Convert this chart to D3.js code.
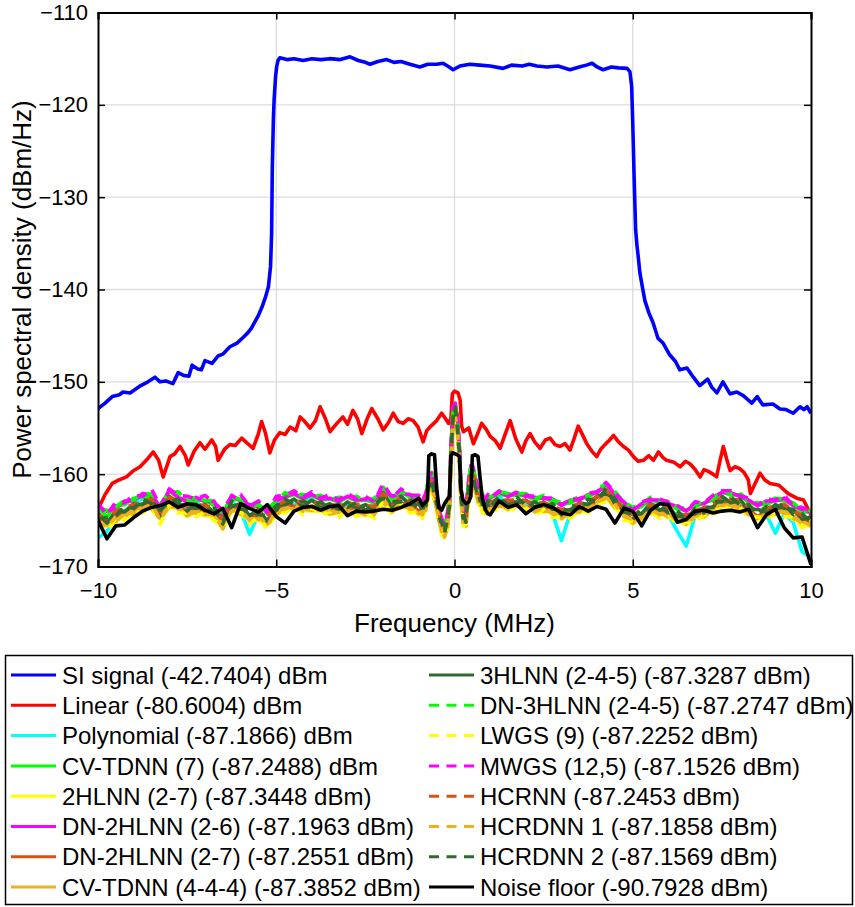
<!DOCTYPE html>
<html>
<head>
<meta charset="utf-8">
<script src="https://cdn.jsdelivr.net/npm/d3@7"></script>
<style>
body { margin: 0; background: #fff; }
svg { font-family: "Liberation Sans", Arial, sans-serif; }
</style>
</head>
<body>
<div id="chart"></div>
<script>

// x ticks / y ticks
var xTicks = [-10, -5, 0, 5, 10];
var yTicks = [-170, -160, -150, -140, -130, -120, -110];

// SI signal
var siFreq = [-10,-9.8,-9.6,-9.4,-9.3,-9.1,-8.95,-8.8,-8.6,-8.4,-8.26,-8.1,-7.9,-7.75,-7.6,-7.45,-7.36,-7.2,-7.1,-7,
  -6.8,-6.63,-6.5,-6.3,-6.1,-5.93,-5.8,-5.7,-5.6,-5.5,-5.4,-5.3,-5.22,-5.16,-5.13,-5.11,-5.08,-5.06,-5.02,-4.99,
  -4.95,-4.9,-4.7,-4.5,-4.25,-4,-3.75,-3.5,-3.2,-2.93,-2.7,-2.5,-2.37,-2.15,-1.9,-1.7,-1.5,-1.25,-0.97,-0.75,
  -0.5,-0.32,-0.15,-0.04,0.15,0.43,0.7,1,1.36,1.6,1.9,2.1,2.31,2.6,2.9,3.24,3.5,3.7,3.86,4,
  4.17,4.4,4.6,4.84,4.92,4.97,5,5.04,5.08,5.12,5.15,5.2,5.25,5.34,5.45,5.57,5.71,5.85,6.04,6.2,
  6.32,6.52,6.7,6.88,7.1,7.22,7.36,7.53,7.73,7.92,8.1,8.34,8.49,8.65,8.93,9.13,9.3,9.5,9.69,9.8,9.89,10];
var siPsd = [-152.9,-152.3,-151.6,-151.4,-151.1,-151.2,-150.8,-150.4,-150.0,-149.5,-150.0,-149.9,-150.2,-149.0,-149.3,-149.4,-148.2,-148.6,-148.7,-147.7,
  -148.0,-147.2,-147.0,-146.2,-145.8,-145.2,-144.7,-144.2,-143.5,-142.8,-141.9,-140.8,-139.7,-137.5,-133.9,-126.7,-121.5,-119.5,-117.0,-115.9,
  -115.2,-114.9,-115.1,-115.0,-115.2,-115.0,-115.1,-115.0,-115.1,-114.8,-115.2,-115.4,-115.6,-115.3,-115.1,-115.4,-115.3,-115.6,-115.9,-115.6,
  -115.6,-115.5,-115.9,-116.2,-115.8,-115.6,-115.7,-115.8,-116.05,-115.7,-115.8,-115.6,-115.8,-115.9,-115.8,-116.2,-115.9,-115.7,-115.5,-115.9,
  -116.2,-115.9,-116.0,-116.05,-116.4,-118.0,-122.0,-128.0,-133.5,-135.3,-136.3,-138.2,-139.3,-141.2,-142.5,-143.6,-145.3,-145.8,-147.1,-147.8,
  -148.7,-148.5,-149.5,-150.4,-149.7,-150.6,-151.2,-150.0,-151.3,-151.1,-151.5,-152.3,-151.6,-152.5,-152.4,-152.95,-153.0,-153.4,-152.7,-153.0,-152.7,-153.4];

// Linear canceller (red curve)
var linFreq = [-10,-9.8,-9.6,-9.4,-9.2,-9,-8.82,-8.6,-8.45,-8.3,-8.17,-7.98,-7.85,-7.7,-7.55,-7.47,-7.3,-7.14,-7,-6.81,
  -6.7,-6.63,-6.45,-6.3,-6.15,-5.97,-5.8,-5.65,-5.5,-5.41,-5.3,-5.18,-5.05,-4.9,-4.75,-4.61,-4.45,-4.33,-4.2,-4.05,
  -3.9,-3.77,-3.62,-3.49,-3.3,-3.13,-3,-2.85,-2.72,-2.6,-2.45,-2.32,-2.15,-2,-1.85,-1.72,-1.58,-1.44,-1.3,-1.16,
  -1.02,-0.88,-0.78,-0.69,-0.5,-0.36,-0.25,-0.17,-0.1,-0.06,0,0.1,0.16,0.2,0.25,0.4,0.53,0.65,0.76,0.9,
  1,1.15,1.28,1.42,1.56,1.72,1.89,2,2.12,2.25,2.4,2.55,2.68,2.82,2.96,3.1,3.24,3.35,3.47,3.6,
  3.71,3.85,3.99,4.1,4.22,4.35,4.46,4.6,4.74,4.88,5.02,5.15,5.3,5.45,5.58,5.72,5.85,5.95,6.15,6.33,
  6.48,6.61,6.75,6.89,7,7.12,7.25,7.35,7.45,7.54,7.63,7.73,7.87,8,8.12,8.24,8.3,8.57,8.7,8.85,9.1,9.36,9.6,9.79,10];
var linPsd = [-163.8,-162.2,-161.0,-160.6,-160.3,-159.6,-159.2,-158.3,-157.6,-158.5,-160.3,-158.1,-157.8,-157.0,-158.0,-159.0,-157.5,-156.6,-157.3,-156.3,
  -157.0,-158.5,-157.3,-156.8,-156.9,-156.1,-156.7,-157.2,-155.6,-154.3,-155.6,-157.7,-156.3,-155.5,-155.7,-154.9,-155.3,-153.8,-154.3,-155.0,
  -154.2,-152.7,-154.0,-155.4,-154.5,-153.8,-154.6,-153.1,-154.0,-155.6,-154.0,-152.9,-154.0,-155.2,-154.4,-153.4,-154.3,-154.5,-154.0,-154.2,
  -154.9,-156.5,-155.3,-154.9,-154.2,-153.4,-154.0,-154.5,-154.0,-151.3,-151.0,-151.2,-152.0,-154.8,-155.4,-155.0,-156.7,-155.6,-154.5,-155.2,
  -155.9,-156.4,-157.2,-155.7,-154.2,-156.2,-157.6,-156.4,-155.6,-156.5,-157.2,-156.3,-156.1,-156.8,-157.0,-156.7,-157.4,-156.2,-154.8,-155.8,
  -156.7,-157.5,-158.1,-157.3,-156.8,-156.3,-155.8,-156.5,-157.0,-157.4,-158.1,-158.6,-158.5,-158.0,-158.5,-157.6,-158.2,-158.5,-158.7,-159.2,
  -158.6,-158.9,-159.5,-160.3,-159.5,-159.7,-160.0,-160.3,-158.5,-157.0,-158.3,-159.6,-159.2,-159.4,-159.8,-160.6,-162.1,-159.9,-160.6,-161.0,-161.2,-162.1,-162.6,-162.8,-164.4];

// shared frequency grid for the residual curves and the noise floor
var freqGrid = [-10,-9.75,-9.5,-9.25,-9,-8.75,-8.5,-8.25,-8,-7.75,
  -7.5,-7.25,-7,-6.75,-6.5,-6.25,-6,-5.75,-5.5,-5.25,
  -5,-4.75,-4.5,-4.25,-4,-3.75,-3.5,-3.25,-3,-2.75,
  -2.5,-2.25,-2,-1.75,-1.5,-1.25,-1,-0.9,-0.8,-0.76,
  -0.72,-0.64,-0.56,-0.5,-0.44,-0.36,-0.28,-0.2,-0.14,-0.1,
  -0.04,0.02,0.08,0.14,0.18,0.24,0.32,0.4,0.46,0.5,
  0.58,0.66,0.72,0.78,0.86,0.94,1,1.25,1.5,1.75,
  2,2.25,2.5,2.75,3,3.25,3.5,3.75,4,4.25,
  4.5,4.75,5,5.25,5.5,5.75,6,6.25,6.5,6.75,
  7,7.25,7.5,7.75,8,8.25,8.5,8.75,9,9.25,
  9.5,9.75,10];

var polyPsd = [-166.9,-166.2,-164.6,-164.0,-163.2,-162.6,-163.1,-164.8,-162.4,-163.3,
  -163.9,-163.0,-163.8,-164.2,-165.3,-163.0,-163.9,-166.5,-164.4,-165.2,
  -163.2,-162.8,-163.3,-163.0,-162.7,-163.6,-163.9,-163.1,-163.5,-163.2,
  -164.0,-163.2,-162.0,-163.6,-162.4,-163.3,-163.0,-163.9,-162.8,-162.3,
  -161.4,-161.0,-162.4,-163.3,-164.6,-165.2,-166.3,-165.0,-163.4,-158.6,
  -153.9,-153.2,-154.2,-158.4,-162.4,-164.8,-164.4,-161.8,-160.2,-159.6,
  -161.3,-162.0,-162.8,-163.3,-163.1,-163.0,-163.5,-162.4,-163.3,-163.0,
  -163.3,-163.0,-163.6,-164.3,-167.2,-164.2,-163.6,-163.3,-162.4,-162.1,
  -163.1,-164.1,-165.0,-164.3,-163.0,-163.9,-164.4,-166.2,-167.8,-164.5,
  -164.1,-163.6,-162.9,-163.1,-163.2,-164.0,-164.6,-164.4,-166.4,-164.3,
  -165.2,-168.4,-169.0];
var cvtdnn7Psd = [-163.6,-164.6,-163.4,-163.3,-162.6,-162.5,-162.3,-163.8,-161.8,-162.6,
  -162.8,-162.9,-162.8,-163.4,-164.2,-162.8,-162.7,-163.7,-163.2,-164.3,
  -162.8,-162.5,-162.2,-162.7,-162.3,-162.8,-162.7,-163.0,-162.5,-162.9,
  -162.8,-163.1,-161.4,-162.8,-161.9,-162.5,-162.7,-163.1,-162.3,-161.5,
  -160.3,-160.3,-161.3,-162.5,-163.5,-165.0,-165.4,-164.7,-162.4,-157.5,
  -152.9,-152.6,-153.9,-157.5,-161.4,-164.1,-164.2,-160.8,-159.2,-159.2,
  -160.4,-161.8,-161.8,-162.5,-162.7,-162.7,-162.5,-162.2,-162.3,-162.3,
  -162.3,-162.8,-162.5,-163.0,-163.3,-163.1,-162.6,-162.5,-161.9,-161.3,
  -162.1,-163.3,-163.8,-163.5,-162.7,-163.1,-163.1,-163.8,-163.9,-163.5,
  -163.1,-162.8,-161.9,-162.3,-162.2,-163.1,-163.3,-163.3,-162.8,-162.9,
  -163.3,-164.1,-164.1];
var hl2_27Psd = [-165.5,-165.6,-165.2,-164.4,-164.4,-163.6,-163.8,-164.9,-163.6,-163.7,
  -164.6,-164.1,-164.5,-164.5,-166.0,-163.9,-164.4,-164.9,-165.0,-165.5,
  -164.5,-163.7,-163.9,-163.9,-164.0,-164.0,-164.4,-164.2,-164.2,-164.1,
  -164.5,-164.3,-163.2,-164.0,-163.6,-163.7,-164.4,-164.3,-164.0,-162.6,
  -161.9,-161.4,-162.9,-163.6,-165.1,-166.1,-166.9,-165.8,-163.9,-158.7,
  -154.4,-153.7,-155.4,-158.7,-162.9,-165.1,-165.7,-162.1,-160.7,-160.5,
  -161.9,-162.9,-163.4,-163.6,-164.3,-163.8,-164.1,-163.3,-163.9,-163.4,
  -163.9,-163.9,-164.1,-164.1,-164.9,-164.2,-164.2,-163.6,-163.5,-162.5,
  -163.7,-164.4,-165.4,-164.6,-164.3,-164.2,-164.7,-164.9,-165.5,-164.6,
  -164.7,-163.9,-163.5,-163.4,-163.8,-164.2,-164.9,-164.4,-164.4,-164.0,
  -164.9,-165.2,-165.7];
var dn2hl_26Psd = [-163.5,-164.0,-163.7,-162.9,-162.9,-162.1,-162.2,-163.6,-161.7,-162.5,
  -163.0,-162.5,-163.0,-162.9,-164.5,-162.3,-162.9,-163.3,-163.5,-163.9,
  -162.9,-162.4,-162.1,-162.6,-162.2,-162.7,-162.6,-162.9,-162.4,-162.8,
  -162.7,-162.8,-161.6,-162.4,-162.1,-162.2,-162.9,-162.8,-162.5,-161.2,
  -160.5,-160.0,-161.5,-162.2,-163.6,-164.9,-165.5,-164.5,-162.4,-157.3,
  -152.8,-152.4,-153.8,-157.4,-161.3,-163.9,-164.1,-160.7,-159.1,-159.1,
  -160.3,-161.6,-161.9,-162.2,-162.8,-162.4,-162.6,-161.9,-162.4,-162.0,
  -162.4,-162.5,-162.6,-162.7,-163.3,-162.8,-162.8,-162.2,-162.0,-161.0,
  -162.2,-163.0,-163.9,-163.2,-162.8,-162.8,-163.2,-163.5,-164.0,-163.2,
  -163.2,-162.5,-162.0,-162.0,-162.4,-162.8,-163.4,-162.9,-162.9,-162.6,
  -163.4,-163.8,-164.1];
var dn2hl_27Psd = [-165.2,-165.1,-164.9,-164.0,-164.0,-163.2,-163.4,-164.4,-163.2,-163.2,
  -164.2,-163.6,-164.1,-164.0,-165.6,-163.4,-164.0,-164.4,-164.6,-165.0,
  -164.1,-163.2,-163.5,-163.4,-163.6,-163.5,-164.0,-163.7,-163.8,-163.6,
  -164.1,-163.8,-162.8,-163.5,-163.2,-163.2,-164.0,-163.8,-163.6,-162.2,
  -161.6,-161.0,-162.6,-163.2,-164.8,-165.7,-166.6,-165.4,-163.6,-158.2,
  -154.1,-153.2,-155.1,-158.2,-162.6,-164.7,-165.4,-161.7,-160.4,-160.0,
  -161.6,-162.5,-163.1,-163.2,-164.0,-163.4,-163.8,-162.9,-163.6,-163.0,
  -163.6,-163.5,-163.8,-163.7,-164.6,-163.8,-163.9,-163.2,-163.2,-162.0,
  -163.4,-164.0,-165.1,-164.2,-164.0,-163.8,-164.4,-164.5,-165.2,-164.2,
  -164.4,-163.5,-163.2,-163.0,-163.5,-163.8,-164.6,-164.0,-164.1,-163.6,
  -164.6,-164.8,-165.4];
var cvtdnn444Psd = [-165.4,-165.5,-165.1,-164.3,-164.3,-163.5,-163.7,-164.8,-163.5,-163.6,
  -164.5,-164.0,-164.4,-164.4,-165.9,-163.8,-164.3,-164.8,-164.9,-165.4,
  -164.4,-163.6,-163.8,-163.8,-163.9,-163.9,-164.3,-164.1,-164.1,-164.0,
  -164.4,-164.2,-163.1,-163.9,-163.5,-163.6,-164.3,-164.2,-163.9,-162.5,
  -161.8,-161.3,-162.8,-163.5,-165.0,-166.0,-166.8,-165.7,-163.8,-158.6,
  -154.3,-153.6,-155.3,-158.6,-162.8,-165.0,-165.6,-162.0,-160.6,-160.4,
  -161.8,-162.8,-163.3,-163.5,-164.2,-163.7,-164.0,-163.2,-163.8,-163.3,
  -163.8,-163.8,-164.0,-164.0,-164.8,-164.1,-164.1,-163.5,-163.4,-162.4,
  -163.6,-164.3,-165.3,-164.5,-164.2,-164.1,-164.6,-164.8,-165.4,-164.5,
  -164.6,-163.8,-163.4,-163.3,-163.7,-164.1,-164.8,-164.3,-164.3,-163.9,
  -164.8,-165.1,-165.6];
var hl3_245Psd = [-164.2,-165.3,-164.0,-164.1,-163.2,-163.3,-162.6,-164.5,-162.4,-163.3,
  -163.4,-163.7,-163.3,-164.1,-164.8,-163.5,-163.2,-164.5,-163.8,-165.1,
  -163.3,-163.3,-162.7,-163.5,-162.8,-163.6,-163.2,-163.8,-163.0,-163.7,
  -163.3,-163.9,-162.0,-163.6,-162.4,-163.3,-163.2,-163.9,-162.8,-162.3,
  -160.8,-161.1,-161.8,-163.3,-164.0,-165.8,-165.8,-165.5,-162.8,-158.3,
  -153.3,-153.3,-154.3,-158.3,-161.8,-164.8,-164.6,-161.8,-159.6,-160.1,
  -160.8,-162.6,-162.3,-163.3,-163.2,-163.5,-163.0,-163.0,-162.8,-163.1,
  -162.8,-163.6,-163.0,-163.8,-163.8,-163.9,-163.1,-163.3,-162.4,-162.1,
  -162.6,-164.1,-164.3,-164.3,-163.2,-163.9,-163.6,-164.6,-164.4,-164.3,
  -163.6,-163.6,-162.4,-163.1,-162.7,-163.9,-163.8,-164.1,-163.3,-163.7,
  -163.8,-164.9,-164.6];
var dn3hlPsd = [-163.9,-163.9,-163.6,-162.8,-162.8,-162.0,-162.2,-163.2,-162.0,-161.9,
  -163.0,-162.4,-162.9,-162.8,-164.3,-162.3,-162.8,-163.2,-163.4,-163.8,
  -162.9,-162.0,-162.3,-162.2,-162.4,-162.3,-162.8,-162.5,-162.6,-162.4,
  -162.9,-162.6,-161.5,-162.3,-162.0,-162.0,-162.8,-162.6,-162.4,-161.0,
  -160.4,-159.8,-161.4,-162.1,-163.6,-164.6,-165.4,-164.6,-162.1,-157.4,
  -152.7,-152.5,-153.8,-157.3,-161.1,-163.8,-164.1,-160.5,-159.2,-158.9,
  -160.4,-161.4,-161.9,-162.1,-162.8,-162.3,-162.5,-161.9,-162.1,-162.1,
  -162.1,-162.7,-162.3,-162.8,-163.1,-162.9,-162.4,-162.3,-161.7,-161.0,
  -161.9,-163.0,-163.6,-163.3,-162.5,-162.9,-162.9,-163.6,-163.7,-163.3,
  -162.9,-162.6,-161.7,-162.1,-162.0,-162.9,-163.1,-163.1,-162.6,-162.7,
  -163.1,-163.9,-163.9];
var lwgsPsd = [-165.1,-166.2,-164.8,-165.0,-164.0,-164.2,-163.4,-165.4,-163.2,-164.2,
  -164.2,-164.6,-164.1,-165.0,-165.6,-164.4,-164.0,-165.4,-164.6,-166.0,
  -164.1,-164.2,-163.5,-164.4,-163.6,-164.5,-164.0,-164.7,-163.8,-164.6,
  -164.1,-164.8,-162.8,-164.5,-163.2,-164.2,-164.0,-164.8,-163.6,-163.2,
  -161.6,-162.0,-162.6,-164.2,-164.8,-166.6,-166.6,-166.4,-163.6,-159.2,
  -154.1,-154.2,-155.1,-159.2,-162.6,-165.6,-165.4,-162.6,-160.4,-161.0,
  -161.6,-163.4,-163.1,-164.2,-164.0,-164.4,-163.8,-163.9,-163.6,-163.9,
  -163.6,-164.5,-163.8,-164.7,-164.6,-164.8,-163.9,-164.2,-163.2,-163.0,
  -163.4,-165.0,-165.1,-165.2,-164.0,-164.8,-164.4,-165.5,-165.2,-165.2,
  -164.4,-164.5,-163.2,-164.0,-163.5,-164.8,-164.6,-165.0,-164.1,-164.6,
  -164.6,-165.8,-165.4];
var mwgsPsd = [-163.2,-164.4,-163.0,-163.1,-162.3,-162.4,-161.6,-163.5,-161.6,-162.3,
  -162.4,-162.7,-162.3,-163.1,-163.9,-162.4,-162.2,-163.5,-162.9,-164.2,
  -162.4,-162.3,-161.8,-162.5,-161.9,-162.6,-162.2,-162.8,-162.1,-162.7,
  -162.4,-163.0,-161.0,-162.6,-161.6,-162.3,-162.3,-162.9,-162.0,-161.3,
  -160.2,-159.9,-161.3,-162.0,-163.5,-164.8,-165.6,-164.2,-162.3,-157.2,
  -152.8,-152.3,-153.7,-157.2,-161.3,-164.0,-163.9,-160.6,-159.1,-159.0,
  -160.2,-161.5,-161.7,-162.3,-162.7,-162.2,-162.6,-161.8,-162.4,-161.9,
  -162.3,-162.4,-162.6,-162.6,-163.4,-162.7,-162.7,-162.1,-161.9,-160.9,
  -162.0,-163.1,-163.9,-163.0,-162.7,-162.7,-163.0,-163.4,-164.0,-163.0,
  -163.1,-162.3,-161.8,-161.8,-162.3,-162.6,-163.4,-162.7,-162.8,-162.3,
  -163.4,-163.6,-164.0];
var hcrnnPsd = [-164.4,-164.9,-164.0,-163.6,-163.3,-162.9,-162.7,-164.1,-162.5,-162.9,
  -163.5,-163.3,-163.4,-163.7,-164.9,-163.1,-163.3,-164.1,-163.9,-164.7,
  -163.4,-162.9,-162.8,-163.1,-162.9,-163.2,-163.3,-163.4,-163.1,-163.3,
  -163.4,-163.5,-162.1,-163.2,-162.5,-162.9,-163.3,-163.5,-162.9,-161.9,
  -160.9,-160.7,-161.9,-162.9,-164.1,-165.4,-165.9,-165.1,-162.9,-157.9,
  -153.4,-152.9,-154.4,-157.9,-161.9,-164.4,-164.7,-161.4,-159.7,-159.7,
  -160.9,-162.2,-162.4,-162.9,-163.3,-163.1,-163.1,-162.6,-162.9,-162.7,
  -162.9,-163.2,-163.1,-163.4,-163.9,-163.5,-163.2,-162.9,-162.5,-161.7,
  -162.7,-163.7,-164.4,-163.9,-163.3,-163.5,-163.7,-164.2,-164.5,-163.9,
  -163.7,-163.2,-162.5,-162.7,-162.8,-163.5,-163.9,-163.7,-163.4,-163.3,
  -163.9,-164.5,-164.7];
var hcrdnn1Psd = [-164.9,-165.8,-164.6,-164.6,-163.8,-163.8,-163.2,-165.0,-163.0,-163.8,
  -164.0,-164.2,-163.9,-164.6,-165.4,-164.0,-163.8,-165.0,-164.4,-165.6,
  -163.9,-163.8,-163.3,-164.0,-163.4,-164.1,-163.8,-164.3,-163.6,-164.2,
  -163.9,-164.4,-162.6,-164.1,-163.0,-163.8,-163.8,-164.4,-163.4,-162.8,
  -161.4,-161.6,-162.4,-163.8,-164.6,-166.2,-166.4,-166.0,-163.4,-158.8,
  -153.9,-153.8,-154.9,-158.8,-162.4,-165.2,-165.2,-162.2,-160.2,-160.6,
  -161.4,-163.0,-162.9,-163.8,-163.8,-164.0,-163.6,-163.5,-163.4,-163.5,
  -163.4,-164.1,-163.6,-164.3,-164.4,-164.4,-163.7,-163.8,-163.0,-162.6,
  -163.2,-164.6,-164.9,-164.8,-163.8,-164.4,-164.2,-165.1,-165.0,-164.8,
  -164.2,-164.1,-163.0,-163.6,-163.3,-164.4,-164.4,-164.6,-163.9,-164.2,
  -164.4,-165.4,-165.2];
var hcrdnn2Psd = [-164.9,-164.7,-164.5,-163.5,-163.7,-162.7,-163.2,-163.9,-163.0,-162.7,
  -164.0,-163.1,-163.9,-163.5,-165.4,-162.9,-163.8,-163.9,-164.4,-164.5,
  -163.9,-162.7,-163.3,-162.9,-163.4,-163.0,-163.8,-163.2,-163.6,-163.1,
  -163.9,-163.3,-162.6,-163.0,-163.0,-162.7,-163.8,-163.3,-163.4,-161.7,
  -161.4,-160.5,-162.4,-162.7,-164.6,-165.2,-166.4,-164.9,-163.4,-157.7,
  -153.9,-152.7,-154.9,-157.7,-162.4,-164.2,-165.2,-161.2,-160.2,-159.5,
  -161.4,-162.0,-162.9,-162.7,-163.8,-162.9,-163.6,-162.4,-163.4,-162.5,
  -163.4,-163.0,-163.6,-163.2,-164.4,-163.3,-163.7,-162.7,-163.0,-161.5,
  -163.2,-163.5,-164.9,-163.7,-163.8,-163.3,-164.2,-164.0,-165.0,-163.7,
  -164.2,-163.0,-163.0,-162.5,-163.3,-163.3,-164.4,-163.5,-163.9,-163.1,
  -164.4,-164.3,-165.2];
var noisePsd = [-165.0,-167.0,-165.6,-165.5,-164.7,-164.0,-163.6,-163.4,-163.0,-163.6,
  -163.2,-163.3,-163.9,-164.3,-163.7,-165.8,-163.2,-163.7,-164.1,-163.3,
  -164.6,-165.3,-164.0,-163.6,-163.5,-163.9,-163.5,-163.4,-164.5,-164.0,
  -164.1,-164.0,-163.8,-163.9,-163.6,-163.2,-162.6,-163.4,-163.0,-162.8,
  -158.0,-157.8,-157.9,-161.5,-163.6,-163.9,-163.2,-162.7,-162.4,-158.0,
  -157.7,-157.8,-157.9,-158.1,-161.7,-162.8,-163.2,-163.0,-162.4,-158.0,
  -157.9,-158.1,-160.5,-162.6,-163.8,-164.3,-164.4,-162.9,-163.6,-163.3,
  -164.3,-163.6,-163.3,-163.6,-164.2,-164.4,-163.5,-164.0,-163.5,-163.8,
  -165.3,-163.7,-164.0,-165.6,-163.9,-163.2,-163.3,-165.2,-164.9,-164.0,
  -163.9,-164.2,-164.0,-163.9,-164.1,-163.8,-165.8,-164.4,-163.8,-165.8,
  -166.9,-166.8,-169.8];

var legendLabels = [
  "SI signal (-42.7404) dBm", "Linear (-80.6004) dBm", "Polynomial (-87.1866) dBm",
  "CV-TDNN (7) (-87.2488) dBm", "2HLNN (2-7) (-87.3448 dBm)", "DN-2HLNN (2-6) (-87.1963 dBm)",
  "DN-2HLNN (2-7) (-87.2551 dBm)", "CV-TDNN (4-4-4) (-87.3852 dBm)", "3HLNN (2-4-5) (-87.3287 dBm)",
  "DN-3HLNN (2-4-5) (-87.2747 dBm)", "LWGS (9) (-87.2252 dBm)", "MWGS (12,5) (-87.1526 dBm)",
  "HCRNN (-87.2453 dBm)", "HCRDNN 1 (-87.1858 dBm)", "HCRDNN 2 (-87.1569 dBm)",
  "Noise floor (-90.7928 dBm)"
];

var seriesStyle = [
  {color: "#0000ff", dash: false},
  {color: "#ff0000", dash: false},
  {color: "#00ffff", dash: false},
  {color: "#00ff00", dash: false},
  {color: "#ffff00", dash: false},
  {color: "#ff00ff", dash: false},
  {color: "#d95319", dash: false},
  {color: "#edb120", dash: false},
  {color: "#2f6b2f", dash: false},
  {color: "#00ff00", dash: true},
  {color: "#ffff00", dash: true},
  {color: "#ff00ff", dash: true},
  {color: "#d95319", dash: true},
  {color: "#edb120", dash: true},
  {color: "#2f6b2f", dash: true},
  {color: "#000000", dash: false}
];

var gridPsd = [polyPsd, cvtdnn7Psd, hl2_27Psd, dn2hl_26Psd, dn2hl_27Psd, cvtdnn444Psd, hl3_245Psd,
  dn3hlPsd, lwgsPsd, mwgsPsd, hcrnnPsd, hcrdnn1Psd, hcrdnn2Psd, noisePsd];

var series = [
  {x: siFreq, y: siPsd},
  {x: linFreq, y: linPsd}
].concat(gridPsd.map(function(p){ return {x: freqGrid, y: p}; }));

series.forEach(function(s, i){
  s.label = legendLabels[i];
  s.color = seriesStyle[i].color;
  s.dash = seriesStyle[i].dash;
});

var psdChart = {
  init: function(){
    var W = 855, H = 907;
    var plot = {left: 98, right: 811, top: 12.5, bottom: 566.5};

    var svg = d3.select("#chart").append("svg")
      .attr("width", W)
      .attr("height", H);

    var x = d3.scaleLinear().domain([-10, 10]).range([plot.left, plot.right]);
    var y = d3.scaleLinear().domain([-170, -110]).range([plot.bottom, plot.top]);

    svg.append("defs").append("clipPath")
      .attr("id", "plot-clip")
      .append("rect")
      .attr("x", plot.left).attr("y", plot.top)
      .attr("width", plot.right - plot.left)
      .attr("height", plot.bottom - plot.top);

    // grid
    var grid = svg.append("g").attr("class", "grid")
      .attr("stroke", "#dcdcdc").attr("stroke-width", 1.3);
    grid.selectAll(".gx").data(xTicks.slice(1, -1)).enter().append("line")
      .attr("x1", function(d){ return x(d); }).attr("x2", function(d){ return x(d); })
      .attr("y1", plot.top).attr("y2", plot.bottom);
    grid.selectAll(".gy").data(yTicks.slice(1, -1)).enter().append("line")
      .attr("y1", function(d){ return y(d); }).attr("y2", function(d){ return y(d); })
      .attr("x1", plot.left).attr("x2", plot.right);

    var line = d3.line()
      .x(function(d){ return x(d[0]); })
      .y(function(d){ return y(d[1]); });

    svg.append("g")
      .attr("clip-path", "url(#plot-clip)")
      .selectAll("path")
      .data(series)
      .enter()
      .append("path")
      .attr("fill", "none")
      .attr("stroke", function(d){ return d.color; })
      .attr("stroke-width", 3.6)
      .attr("stroke-linejoin", "round")
      .attr("stroke-dasharray", function(d){ return d.dash ? "10,8" : null; })
      .attr("d", function(d){ return line(d3.zip(d.x, d.y)); });

    // axes, ticks inside
    var fmt = function(d){ return String(d).replace("-", "\u2212"); };
    var fontSize = "22px";

    var xAxis = svg.append("g")
      .attr("transform", "translate(0," + plot.bottom + ")")
      .call(d3.axisBottom(x).tickValues(xTicks).tickSize(-7).tickPadding(16).tickFormat(fmt));
    var xTop = svg.append("g")
      .attr("transform", "translate(0," + plot.top + ")")
      .call(d3.axisTop(x).tickValues(xTicks).tickSize(-7).tickFormat(""));
    var yAxis = svg.append("g")
      .attr("transform", "translate(" + plot.left + ",0)")
      .call(d3.axisLeft(y).tickValues(yTicks).tickSize(-7).tickPadding(10).tickFormat(fmt));
    var yRight = svg.append("g")
      .attr("transform", "translate(" + plot.right + ",0)")
      .call(d3.axisRight(y).tickValues(yTicks).tickSize(-7).tickFormat(""));

    [xAxis, xTop, yAxis, yRight].forEach(function(a){
      a.select(".domain").attr("stroke", "#000").attr("stroke-width", 2);
      a.selectAll(".tick line").attr("stroke", "#000").attr("stroke-width", 1.5);
      a.selectAll("text")
        .attr("fill", "#000")
        .style("font-size", fontSize)
        .style("font-family", "'Liberation Sans', Arial, sans-serif");
    });

    svg.append("text")
      .attr("x", (plot.left + plot.right) / 2)
      .attr("y", 632)
      .attr("text-anchor", "middle")
      .style("font-size", "26px")
      .text("Frequency (MHz)");

    svg.append("text")
      .attr("transform", "translate(31," + ((plot.top + plot.bottom) / 2) + ") rotate(-90)")
      .attr("text-anchor", "middle")
      .style("font-size", "26px")
      .text("Power spectral density (dBm/Hz)");

    // legend
    var lg = svg.append("g").attr("class", "legend");
    lg.append("rect")
      .attr("x", 5.5).attr("y", 655.5)
      .attr("width", 847).attr("height", 249)
      .attr("fill", "#fff")
      .attr("stroke", "#000")
      .attr("stroke-width", 1.5);

    var items = lg.selectAll(".item")
      .data(series)
      .enter()
      .append("g")
      .attr("class", "item")
      .attr("transform", function(d, i){
        var col = i < 8 ? 0 : 1, row = i % 8;
        return "translate(" + (col ? 429 : 11) + "," + (675 + row * 30.3) + ")";
      });

    items.append("line")
      .attr("x1", 0).attr("x2", 45)
      .attr("stroke", function(d){ return d.color; })
      .attr("stroke-width", 3)
      .attr("stroke-dasharray", function(d){ return d.dash ? "10,7.5" : null; });

    items.append("text")
      .attr("x", 51)
      .attr("dy", "0.36em")
      .style("font-size", "24px")
      .text(function(d){ return d.label; });
  }
};

psdChart.init();
</script>
</body>
</html>
